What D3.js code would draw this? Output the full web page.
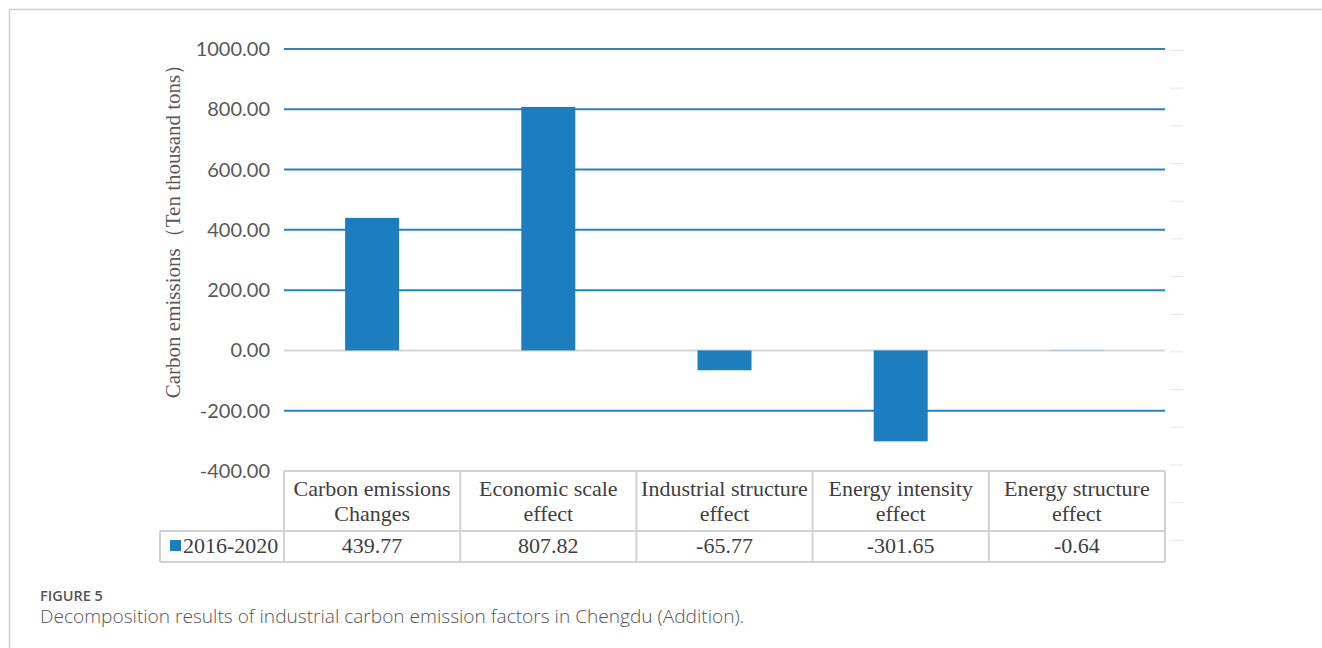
<!DOCTYPE html>
<html>
<head>
<meta charset="utf-8">
<script src="https://cdn.jsdelivr.net/npm/d3@7"></script>
<style>
  body { margin: 0; background: #fff; }
</style>
</head>
<body>
<svg id="chart" width="1322" height="648"></svg>
<script>
// chart data
const categories = [
  ["Carbon emissions", "Changes"],
  ["Economic scale", "effect"],
  ["Industrial structure", "effect"],
  ["Energy intensity", "effect"],
  ["Energy structure", "effect"]
];
const seriesName = "2016-2020";
const values = [439.77, 807.82, -65.77, -301.65, -0.64];
const valueLabels = ["439.77", "807.82", "-65.77", "-301.65", "-0.64"];
const yTicks = [-400, -200, 0, 200, 400, 600, 800, 1000];
const rightTicks = [-625, -500, -375, -250, -125, 0, 125, 250, 375, 500, 625, 750, 875, 1000];

const svg = d3.select("#chart");
const params = {
  left: 284, right: 1165, top: 49, bottom: 471,
  headerH: 60, rowH: 31, legendLeft: 160,
  barWidth: 54,
  barColor: "#1c7dbf",
  gridColor: "#2b80c6"
};

// page frame
svg.append("line").attr("x1", 9.5).attr("x2", 1322).attr("y1", 9.5).attr("y2", 9.5)
  .attr("stroke", "#cfcfcf").attr("stroke-width", 1.5);
svg.append("line").attr("x1", 9.5).attr("x2", 9.5).attr("y1", 9.5).attr("y2", 648)
  .attr("stroke", "#cfcfcf").attr("stroke-width", 1.5);

const xScale = d3.scaleBand()
  .domain(d3.range(categories.length))
  .range([params.left, params.right])
  .padding(0);

const yScale = d3.scaleLinear()
  .domain([-400, 1000])
  .range([params.bottom, params.top]);

// faint secondary ticks on the right
svg.append("g")
  .selectAll("line")
  .data(rightTicks)
  .enter()
  .append("line")
    .attr("x1", 1170).attr("x2", 1183)
    .attr("y1", d => yScale(d) + 1.5).attr("y2", d => yScale(d) + 1.5)
    .attr("stroke", "#e6e6e6").attr("stroke-width", 1);

// gridlines
svg.append("g")
  .selectAll("line")
  .data(yTicks.filter(d => d !== -400))
  .enter()
  .append("line")
    .attr("x1", params.left).attr("x2", params.right)
    .attr("y1", d => yScale(d)).attr("y2", d => yScale(d))
    .attr("stroke", d => d === 0 ? "#d6d6d6" : params.gridColor)
    .attr("stroke-width", 2);

// y tick labels
svg.append("g")
  .selectAll("text")
  .data(yTicks)
  .enter()
  .append("text")
    .attr("x", 270)
    .attr("y", d => yScale(d))
    .attr("dy", "0.35em")
    .attr("text-anchor", "end")
    .attr("font-family", "Lato, sans-serif")
    .attr("font-size", 20)
    .attr("fill", "#595959")
    .text(d => d.toFixed(2));

// y axis title
svg.append("text")
  .attr("transform", `translate(180,226) rotate(-90)`)
  .attr("text-anchor", "middle")
  .attr("font-family", "'Liberation Serif', 'Times New Roman', serif")
  .attr("font-size", 21)
  .attr("fill", "#595959")
  .text("Carbon emissions（Ten thousand tons）");

// bars
svg.append("g")
  .selectAll("rect")
  .data(values)
  .enter()
  .append("rect")
    .attr("x", (d, i) => xScale(i) + xScale.bandwidth() / 2 - params.barWidth / 2)
    .attr("y", d => yScale(Math.max(0, d)))
    .attr("width", params.barWidth)
    .attr("height", d => Math.abs(yScale(d) - yScale(0)))
    .attr("fill", params.barColor);

// data table
const tableTop = yScale(-400);
const headerBottom = tableTop + params.headerH;
const rowBottom = headerBottom + params.rowH;
const border = svg.append("g").attr("stroke", "#d2d2d2").attr("stroke-width", 2).attr("fill", "none");
border.append("line").attr("x1", params.left).attr("x2", params.right).attr("y1", tableTop).attr("y2", tableTop);
border.append("line").attr("x1", params.legendLeft).attr("x2", params.right).attr("y1", headerBottom).attr("y2", headerBottom);
border.append("line").attr("x1", params.legendLeft).attr("x2", params.right).attr("y1", rowBottom).attr("y2", rowBottom);
border.append("line").attr("x1", params.legendLeft).attr("x2", params.legendLeft).attr("y1", headerBottom).attr("y2", rowBottom);
border.selectAll(".col")
  .data(d3.range(categories.length + 1))
  .enter()
  .append("line")
    .attr("class", "col")
    .attr("x1", i => i < categories.length ? xScale(i) : params.right)
    .attr("x2", i => i < categories.length ? xScale(i) : params.right)
    .attr("y1", tableTop).attr("y2", rowBottom);

const serif = "'Liberation Serif', 'Times New Roman', serif";
const tableFont = 22;
const header = svg.append("g")
  .selectAll("text")
  .data(categories)
  .enter()
  .append("text")
    .attr("x", (d, i) => xScale(i) + xScale.bandwidth() / 2)
    .attr("y", tableTop + 25)
    .attr("text-anchor", "middle")
    .attr("font-family", serif)
    .attr("font-size", tableFont)
    .attr("fill", "#404040");
header.selectAll("tspan")
  .data(d => d)
  .enter()
  .append("tspan")
    .attr("x", function () { return d3.select(this.parentNode).attr("x"); })
    .attr("dy", (d, i) => i === 0 ? 0 : 25)
    .text(d => d);

svg.append("g")
  .selectAll("text")
  .data(valueLabels)
  .enter()
  .append("text")
    .attr("x", (d, i) => xScale(i) + xScale.bandwidth() / 2)
    .attr("y", rowBottom - 9)
    .attr("text-anchor", "middle")
    .attr("font-family", serif)
    .attr("font-size", tableFont)
    .attr("fill", "#404040")
    .text(d => d);

// legend key
svg.append("rect")
  .attr("x", 170).attr("y", rowBottom - 22)
  .attr("width", 11).attr("height", 11)
  .attr("fill", params.barColor);
svg.append("text")
  .attr("x", 183).attr("y", rowBottom - 9)
  .attr("font-family", serif)
  .attr("font-size", tableFont)
  .attr("fill", "#404040")
  .text(seriesName);

// caption
svg.append("text")
  .attr("x", 40).attr("y", 601)
  .attr("font-family", "'Open Sans', sans-serif")
  .attr("font-size", 14.5)
  .attr("font-weight", 600)
  .attr("fill", "#555")
  .text("FIGURE 5");
svg.append("text")
  .attr("x", 40).attr("y", 623)
  .attr("font-family", "'Open Sans', sans-serif")
  .attr("font-size", 19.1)
  .attr("font-weight", 300)
  .attr("fill", "#555")
  .text("Decomposition results of industrial carbon emission factors in Chengdu (Addition).");
</script>
</body>
</html>
